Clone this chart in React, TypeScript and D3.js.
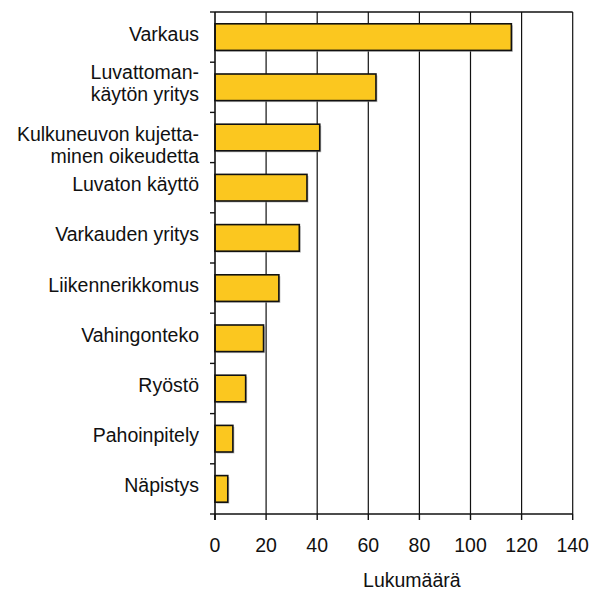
import React from "react";
import * as d3 from "d3";

const categories = [
  "Varkaus",
  "Luvattoman-|käytön yritys",
  "Kulkuneuvon kujetta-|minen oikeudetta",
  "Luvaton käyttö",
  "Varkauden yritys",
  "Liikennerikkomus",
  "Vahingonteko",
  "Ryöstö",
  "Pahoinpitely",
  "Näpistys",
];
const values = [116, 63, 41, 36, 33, 25, 19, 12, 7, 5];
const xTicks = [0, 20, 40, 60, 80, 100, 120, 140];
const xTitle = "Lukumäärä";

const W = 597;
const H = 590;
const left = 215;
const right = 572.7;
const top = 12;
const bottom = 514;
const FONT = "Liberation Sans, Arial, sans-serif";
const FS = 19.5;
const BAR = "#FBC71F";

export default function App() {
  const x = d3.scaleLinear().domain([0, 140]).range([left, right]);
  const y = d3
    .scaleBand<string>()
    .domain(categories)
    .range([top, bottom])
    .paddingInner(0.47)
    .paddingOuter(0.235);
  const step = y.step();
  const bw = y.bandwidth();
  const boundaries = d3.range(categories.length + 1).map((i) => top + i * step);

  return (
    <svg
      width={W}
      height={H}
      style={{ position: "absolute", left: 0, top: 0, display: "block" }}
      fontFamily={FONT}
    >
      <rect width={W} height={H} fill="#fff" />
      {/* gridlines */}
      {xTicks.slice(1).map((t) => (
        <line key={"g" + t} x1={x(t)} x2={x(t)} y1={top} y2={bottom} stroke="#111" strokeWidth={1.2} />
      ))}
      {/* top border */}
      <line x1={left} x2={right} y1={top} y2={top} stroke="#111" strokeWidth={1.5} />
      {/* bars */}
      {categories.map((c, i) => {
        const y0 = y(c)!;
        const w = x(values[i]) - x(0);
        return (
          <g key={"b" + i}>
            <rect x={x(0) + 1.5} y={y0 + 1.5} width={w} height={bw} fill="#999" opacity={0.6} />
            <rect x={x(0)} y={y0} width={w} height={bw} fill={BAR} stroke="#111" strokeWidth={1.6} />
          </g>
        );
      })}
      {/* left axis */}
      <line x1={left} x2={left} y1={top} y2={bottom + 6} stroke="#111" strokeWidth={1.6} />
      {boundaries.map((b, i) => (
        <line key={"yt" + i} x1={left - 5} x2={left} y1={b} y2={b} stroke="#111" strokeWidth={1.4} />
      ))}
      {/* bottom axis */}
      <line x1={left} x2={right} y1={bottom} y2={bottom} stroke="#111" strokeWidth={1.6} />
      {xTicks.map((t) => (
        <line key={"xt" + t} x1={x(t)} x2={x(t)} y1={bottom} y2={bottom + 6} stroke="#111" strokeWidth={1.4} />
      ))}
      {xTicks.map((t) => (
        <text key={"xl" + t} x={x(t)} y={552} textAnchor="middle" fontSize={FS} fill="#111">
          {t}
        </text>
      ))}
      <text x={(left + right) / 2 + 18} y={587} textAnchor="middle" fontSize={FS} fill="#111">
        {xTitle}
      </text>
      {/* category labels */}
      {categories.map((c, i) => {
        const lines = c.split("|");
        const cy = y(c)! + bw / 2;
        const firstOffset = lines.length > 1 && i === 1 ? -8 : 3.5;
        return (
          <text key={"cl" + i} x={199} textAnchor="end" fontSize={FS} fill="#111">
            {lines.map((ln, j) => (
              <tspan key={j} x={199} y={cy + firstOffset + j * 22}>
                {ln}
              </tspan>
            ))}
          </text>
        );
      })}
    </svg>
  );
}
